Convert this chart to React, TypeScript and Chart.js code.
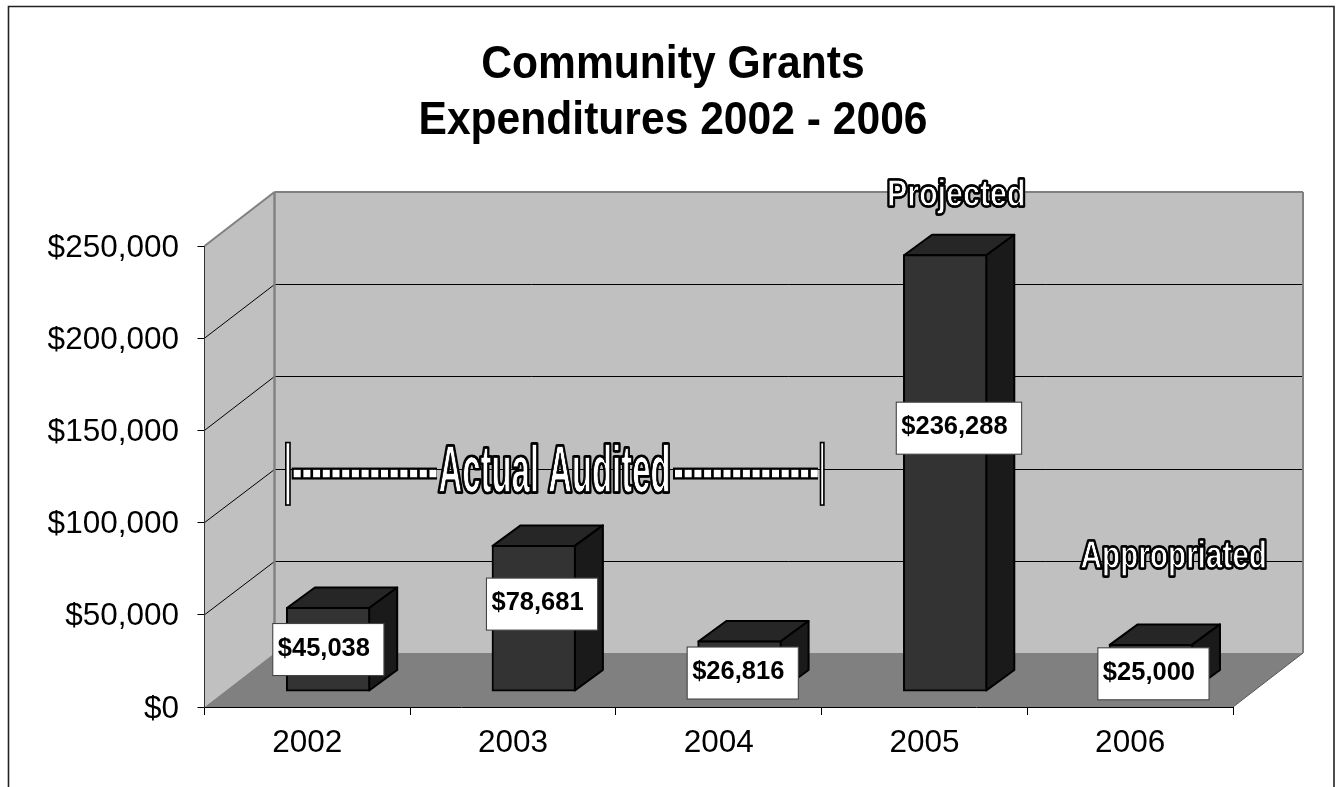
import React, { useEffect, useRef } from "react";
import { Chart, registerables } from "chart.js";

Chart.register(...registerables);

const years = ["2002", "2003", "2004", "2005", "2006"];
const expenditures = [45038, 78681, 26816, 236288, 25000];
const titleLines = ["Community Grants", "Expenditures 2002 - 2006"];

// Hand placement of the value boxes, measured from the centre of each column.
const labelShiftX = [0, 8, 3, 13.5, 2.3];
const labelShiftY = [-0.4, -14.8, 6.3, -45.4, 5.4];

const FONT = '"Liberation Sans", Arial, sans-serif';
const WALL = "#c0c0c0";
const FLOOR = "#808080";
const EDGE = "#808080";
const WALL_DX = 70;
const WALL_DY = -54;
const BAR_DX = 20.7;
const BAR_DY = -16;
const CUBE_DX = 28;
const CUBE_DY = -20.5;
const FRONT_FACE = "#333333";
const TOP_FACE = "#262626";
const SIDE_FACE = "#1a1a1a";
const AUDIT_LEVEL = 126600;

function polygon(ctx: CanvasRenderingContext2D, pts: number[][], fill?: string, stroke?: string, lw = 1) {
  ctx.beginPath();
  pts.forEach(([x, y], i) => (i ? ctx.lineTo(x, y) : ctx.moveTo(x, y)));
  ctx.closePath();
  if (fill) {
    ctx.fillStyle = fill;
    ctx.fill();
  }
  if (stroke) {
    ctx.strokeStyle = stroke;
    ctx.lineWidth = lw;
    ctx.lineJoin = "round";
    ctx.stroke();
  }
}

function segment(ctx: CanvasRenderingContext2D, x0: number, y0: number, x1: number, y1: number, color: string, lw: number) {
  ctx.beginPath();
  ctx.moveTo(x0, y0);
  ctx.lineTo(x1, y1);
  ctx.strokeStyle = color;
  ctx.lineWidth = lw;
  ctx.stroke();
}

// Condensed white lettering with a black outline, squeezed to a given span.
function outlinedText(ctx: CanvasRenderingContext2D, text: string, left: number, right: number, baseline: number, size: number) {
  ctx.save();
  ctx.font = `bold ${size}px ${FONT}`;
  ctx.textAlign = "left";
  ctx.textBaseline = "alphabetic";
  ctx.lineJoin = "round";
  const scale = (right - left) / ctx.measureText(text).width;

  const place = (offset: number, draw: () => void) => {
    ctx.save();
    ctx.translate(left + offset, baseline);
    ctx.scale(scale, 1);
    draw();
    ctx.restore();
  };
  // A squeezed stroke loses width sideways, so it is laid down several times
  // with small horizontal offsets to keep the outline even all round.
  const stroke = (width: number) => {
    const spread = (width - width * scale) / 2;
    const step = Math.max(0.25, width * scale * 0.6);
    const pass = (o: number) =>
      place(o, () => {
        ctx.strokeStyle = "#000";
        ctx.lineWidth = width;
        ctx.strokeText(text, 0, 0);
      });
    for (let o = -spread; o <= spread + 0.001; o += step) pass(o);
    pass(spread);
  };
  stroke(3.6);
  place(0, () => {
    ctx.fillStyle = "#fff";
    ctx.fillText(text, 0, 0);
  });
  stroke(0.8);
  ctx.restore();
}

const stagePlugin = {
  id: "stage",
  beforeDraw(chart: any) {
    const { ctx } = chart;
    const x = chart.scales.x;
    const y = chart.scales.y;
    const l = x.left;
    const r = x.right;
    const t = y.top;
    const b = y.bottom;
    ctx.save();
    ctx.fillStyle = "#fff";
    ctx.fillRect(0, 0, chart.width, chart.height);

    // Outer frame, running off the bottom of the page.
    ctx.beginPath();
    ctx.moveTo(8.5, chart.height + 2);
    ctx.lineTo(8.5, 6.5);
    ctx.lineTo(1334, 6.5);
    ctx.lineTo(1334, chart.height + 2);
    ctx.strokeStyle = "#222";
    ctx.lineWidth = 1.6;
    ctx.stroke();

    // Heading: slightly tall letterforms, centred on the frame.
    ctx.fillStyle = "#000";
    ctx.font = `bold 42.6px ${FONT}`;
    ctx.textAlign = "center";
    ctx.textBaseline = "alphabetic";
    titleLines.forEach((line, i) => {
      ctx.save();
      ctx.translate(673, 77.5 + i * 56);
      ctx.scale(1, 1.08);
      ctx.fillText(line, 0, 0);
      ctx.restore();
    });

    // Side wall, back wall and floor of the box.
    polygon(ctx, [[l, t], [l + WALL_DX, t + WALL_DY], [l + WALL_DX, b + WALL_DY], [l, b]], WALL);
    polygon(ctx, [[l + WALL_DX, t + WALL_DY], [r + WALL_DX, t + WALL_DY], [r + WALL_DX, b + WALL_DY], [l + WALL_DX, b + WALL_DY]], WALL);
    polygon(ctx, [[l, b], [r, b], [r + WALL_DX, b + WALL_DY], [l + WALL_DX, b + WALL_DY]], FLOOR);

    // Gridlines wrap from the axis across the side wall and along the back wall.
    y.ticks.forEach((tick: any) => {
      const py = y.getPixelForValue(tick.value);
      if (tick.value === 0 || tick.value === y.max) return;
      const back = Math.round(py + WALL_DY) + 0.5;
      segment(ctx, l, py, l + WALL_DX, back, "#000", 1);
      segment(ctx, l + WALL_DX, back, r + WALL_DX, back, "#000", 1);
    });

    segment(ctx, l, t, l + WALL_DX, t + WALL_DY, EDGE, 2);
    segment(ctx, l + WALL_DX, t + WALL_DY, r + WALL_DX, t + WALL_DY, EDGE, 2);
    segment(ctx, l + WALL_DX, t + WALL_DY, l + WALL_DX, b + WALL_DY, EDGE, 2.4);
    segment(ctx, r + WALL_DX, t + WALL_DY, r + WALL_DX, b + WALL_DY, EDGE, 2);
    segment(ctx, r, b, r + WALL_DX, b + WALL_DY, "#555", 1);
    ctx.restore();
  },
  beforeDatasetsDraw(chart: any) {
    const { ctx } = chart;
    ctx.save();
    ctx.translate(BAR_DX, BAR_DY);
    // Top and side of each column sit behind the front face the library draws.
    chart.getDatasetMeta(0).data.forEach((bar: any) => {
      const hw = bar.width / 2;
      const x0 = bar.x - hw;
      const x1 = bar.x + hw;
      polygon(ctx, [[x0, bar.y], [x0 + CUBE_DX, bar.y + CUBE_DY], [x1 + CUBE_DX, bar.y + CUBE_DY], [x1, bar.y]], TOP_FACE, "#000", 2);
      polygon(ctx, [[x1, bar.y], [x1 + CUBE_DX, bar.y + CUBE_DY], [x1 + CUBE_DX, bar.base + CUBE_DY], [x1, bar.base]], SIDE_FACE, "#000", 2);
    });
  },
  afterDatasetsDraw(chart: any) {
    const { ctx } = chart;
    ctx.restore();
    ctx.save();

    // Value boxes, sized to their text.
    chart.getDatasetMeta(0).data.forEach((bar: any, i: number) => {
      const text = "$" + expenditures[i].toLocaleString("en-US");
      ctx.font = `bold 25.5px ${FONT}`;
      const w = ctx.measureText(text).width + 19;
      const h = 52;
      const cx = bar.x + 21 + labelShiftX[i];
      const cy = (bar.y + bar.base) / 2 - 15.3 + labelShiftY[i];
      ctx.fillStyle = "#fff";
      ctx.fillRect(cx - w / 2, cy - h / 2, w, h);
      ctx.strokeStyle = "#444";
      ctx.lineWidth = 1.1;
      ctx.strokeRect(cx - w / 2, cy - h / 2, w, h);
      ctx.fillStyle = "#000";
      ctx.textAlign = "left";
      ctx.textBaseline = "middle";
      ctx.fillText(text, cx - w / 2 + 5, cy - 1);
    });

    // Bracket marking the audited years.
    const level = chart.scales.y.getPixelForValue(AUDIT_LEVEL);
    const ruler = (x0: number, x1: number) => {
      ctx.fillStyle = "#000";
      ctx.fillRect(x0, level - 6, x1 - x0, 12);
      ctx.fillStyle = "#fff";
      for (let px = x0 + 2; px + 7 <= x1; px += 9.7) ctx.fillRect(px, level - 3.7, 7, 7.4);
    };
    const cap = (x0: number, w: number) => {
      ctx.fillStyle = "#fff";
      ctx.fillRect(x0, level - 31, w, 62.5);
      ctx.strokeStyle = "#000";
      ctx.lineWidth = 1.6;
      ctx.strokeRect(x0, level - 31, w, 62.5);
    };
    ruler(291.7, 437);
    ruler(673, 818);
    cap(285.8, 4.2);
    cap(820.5, 3.4);
    outlinedText(ctx, "Actual Audited", 438.5, 670.5, level + 18, 67);
    outlinedText(ctx, "Projected", 887, 1025.5, 206, 36.5);
    outlinedText(ctx, "Appropriated", 1080.5, 1267, 567.8, 38.5);
    ctx.restore();
  },
};

export default function App() {
  const ref = useRef<HTMLCanvasElement | null>(null);

  useEffect(() => {
    document.body.style.margin = "0";
    const chart = new Chart(ref.current as HTMLCanvasElement, {
      type: "bar",
      data: {
        labels: years,
        datasets: [
          {
            data: expenditures,
            backgroundColor: FRONT_FACE,
            borderColor: "#000",
            borderWidth: 2,
            borderSkipped: false,
            inflateAmount: 1,
            barPercentage: 0.4,
            categoryPercentage: 1,
            clip: false as any,
          },
        ],
      },
      options: {
        animation: false,
        responsive: false,
        devicePixelRatio: 1,
        layout: { padding: { left: 0, right: 107, top: 246, bottom: 0 } },
        plugins: {
          legend: { display: false },
          tooltip: { enabled: false },
          title: { display: false },
        },
        scales: {
          x: {
            afterFit: (s: any) => {
              s.height = 80;
            },
            grid: { display: true, drawOnChartArea: false, drawTicks: true, tickLength: 8, color: "#000", offset: true },
            border: { display: true, color: "#000", width: 1 },
            ticks: { color: "#000", padding: 9, font: { family: FONT, size: 31.5 }, maxRotation: 0 },
          },
          y: {
            min: 0,
            max: 250000,
            afterFit: (s: any) => {
              s.width = 204.5;
            },
            grid: { display: true, drawOnChartArea: false, drawTicks: true, tickLength: 7, color: "#000" },
            border: { display: true, color: "#333", width: 1 },
            ticks: {
              stepSize: 50000,
              color: "#000",
              padding: 18.5,
              labelOffset: 2,
              font: { family: FONT, size: 31.5 },
              callback: (v: any) => "$" + Number(v).toLocaleString("en-US"),
            },
          },
        },
      },
      plugins: [stagePlugin],
    });
    return () => chart.destroy();
  }, []);

  return <canvas ref={ref} width={1340} height={787} style={{ display: "block" }} />;
}
